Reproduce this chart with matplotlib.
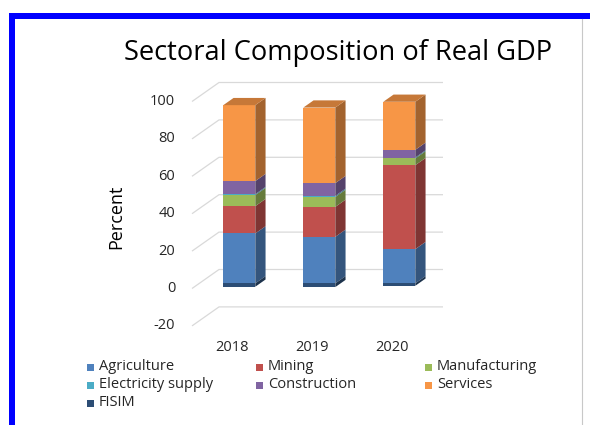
import matplotlib
matplotlib.use("Agg")
import matplotlib.pyplot as plt
from matplotlib.patches import Polygon, Rectangle
import numpy as np

plt.rcParams['font.family'] = ['Open Sans', 'DejaVu Sans']

years = ["2018", "2019", "2020"]
sectors = ["Agriculture", "Mining", "Manufacturing", "Electricity supply",
           "Construction", "Services", "FISIM"]

agriculture = [26.7, 24.9, 18.3]
mining = [14.6, 16.0, 44.9]
manufacturing = [5.9, 5.3, 3.6]
electricity = [0.5, 0.6, 0.5]
construction = [7.0, 6.8, 4.1]
services = [40.6, 40.4, 25.7]
fisim = [-1.8, -2.0, -1.3]

yticks = [-20, 0, 20, 40, 60, 80, 100]

colors = ["#4F81BD", "#C0504D", "#9BBB59", "#4BACC6", "#8064A2", "#F79646", "#2C4D75"]

# pixel layout of the oblique 3d box
W, H = 590, 425
X0, PX_CAT = 232, 80.0      # front-plane centre of first category, px per category
Y0, PX_VAL = 288.5, 1.87    # front-plane zero, px per percent
DX = 27 / PX_CAT            # full wall depth in data units
DY = 19 / PX_VAL
BAR_W = 0.4
D_FRONT, D_BACK = 0.27, 0.65
WALL_RIGHT = 2.3


def shade(c, f):
    rgb = np.array(matplotlib.colors.to_rgb(c))
    return tuple(rgb * f)


fig = plt.figure(figsize=(W / 100, H / 100), dpi=100)
ax = fig.add_axes([0, 0, 1, 1])
ax.set_xlim(-X0 / PX_CAT, (W - X0) / PX_CAT)
ax.set_ylim((Y0 - H) / PX_VAL, Y0 / PX_VAL)
ax.axis("off")

# side wall + back wall gridlines
for v in yticks:
    ax.plot([-0.5, -0.5 + DX, WALL_RIGHT + DX], [v, v + DY, v + DY],
            color="#D9D9D9", lw=0.9, solid_capstyle="butt", zorder=1)
    ax.text(-0.5 - 0.21, v, str(v), ha="right", va="center",
            fontsize=10.5, color="#262626")

for i, y in enumerate(years):
    ax.text(i, -31.3, y, ha="center", va="center", fontsize=10.5, color="#262626")

series = [agriculture, mining, manufacturing, electricity, construction, services, fisim]

for i in range(len(years)):
    pos_base, neg_base = 0.0, 0.0
    x_left = i - BAR_W / 2
    x_right = i + BAR_W / 2
    top_col = None
    for vals, c in zip(series, colors):
        v = vals[i]
        if v >= 0:
            base = pos_base
            pos_base += v
            top_col = c
        else:
            base = neg_base + v
            neg_base += v
        h = abs(v)
        # front face
        ax.bar(x_left + D_FRONT * DX, h, bottom=base + D_FRONT * DY,
               width=BAR_W, align="edge", color=c, lw=0, zorder=3)
        # right side face
        side = [(x_right + D_FRONT * DX, base + D_FRONT * DY),
                (x_right + D_BACK * DX, base + D_BACK * DY),
                (x_right + D_BACK * DX, base + h + D_BACK * DY),
                (x_right + D_FRONT * DX, base + h + D_FRONT * DY)]
        ax.add_patch(Polygon(side, closed=True, facecolor=shade(c, 0.66),
                             lw=0, zorder=3))
    # top face of the stack
    t = pos_base
    top = [(x_left + D_FRONT * DX, t + D_FRONT * DY),
           (x_right + D_FRONT * DX, t + D_FRONT * DY),
           (x_right + D_BACK * DX, t + D_BACK * DY),
           (x_left + D_BACK * DX, t + D_BACK * DY)]
    ax.add_patch(Polygon(top, closed=True, facecolor=shade(top_col, 0.8),
                         lw=0, zorder=3))

fig.text(116 / W, 1 - 217 / H, "Percent", rotation=90, ha="center", va="center",
         fontsize=13, color="black")

fig.text(338 / W, 1 - 53 / H, "Sectoral Composition of Real GDP",
         ha="center", va="center", fontsize=19.6, color="black")

# legend, three columns laid out row by row
col_x = [87, 256, 425]
row_y = [367, 385, 403]
for k, (name, c) in enumerate(zip(sectors, colors)):
    r, cidx = divmod(k, 3)
    px, py = col_x[cidx], row_y[r]
    fig.patches.append(Rectangle((px / W, 1 - (py + 3.5) / H), 7 / W, 7 / H,
                                 transform=fig.transFigure, facecolor=c, lw=0))
    fig.text((px + 12) / W, 1 - py / H, name, ha="left", va="center",
             fontsize=10.5, color="#262626")

# outer frame
fig.patches.append(Rectangle((9 / W, 0), 6 / W, 1 - 13 / H,
                             transform=fig.transFigure, facecolor="#0000FF", lw=0))
fig.patches.append(Rectangle((9 / W, 1 - 19 / H), 1 - 9 / W, 6 / H,
                             transform=fig.transFigure, facecolor="#0000FF", lw=0))
fig.lines.append(plt.Line2D([582 / W, 582 / W], [0, 1 - 19 / H],
                            transform=fig.transFigure, color="#C8C8C8", lw=0.8))

fig.savefig("out.png", dpi=100)
